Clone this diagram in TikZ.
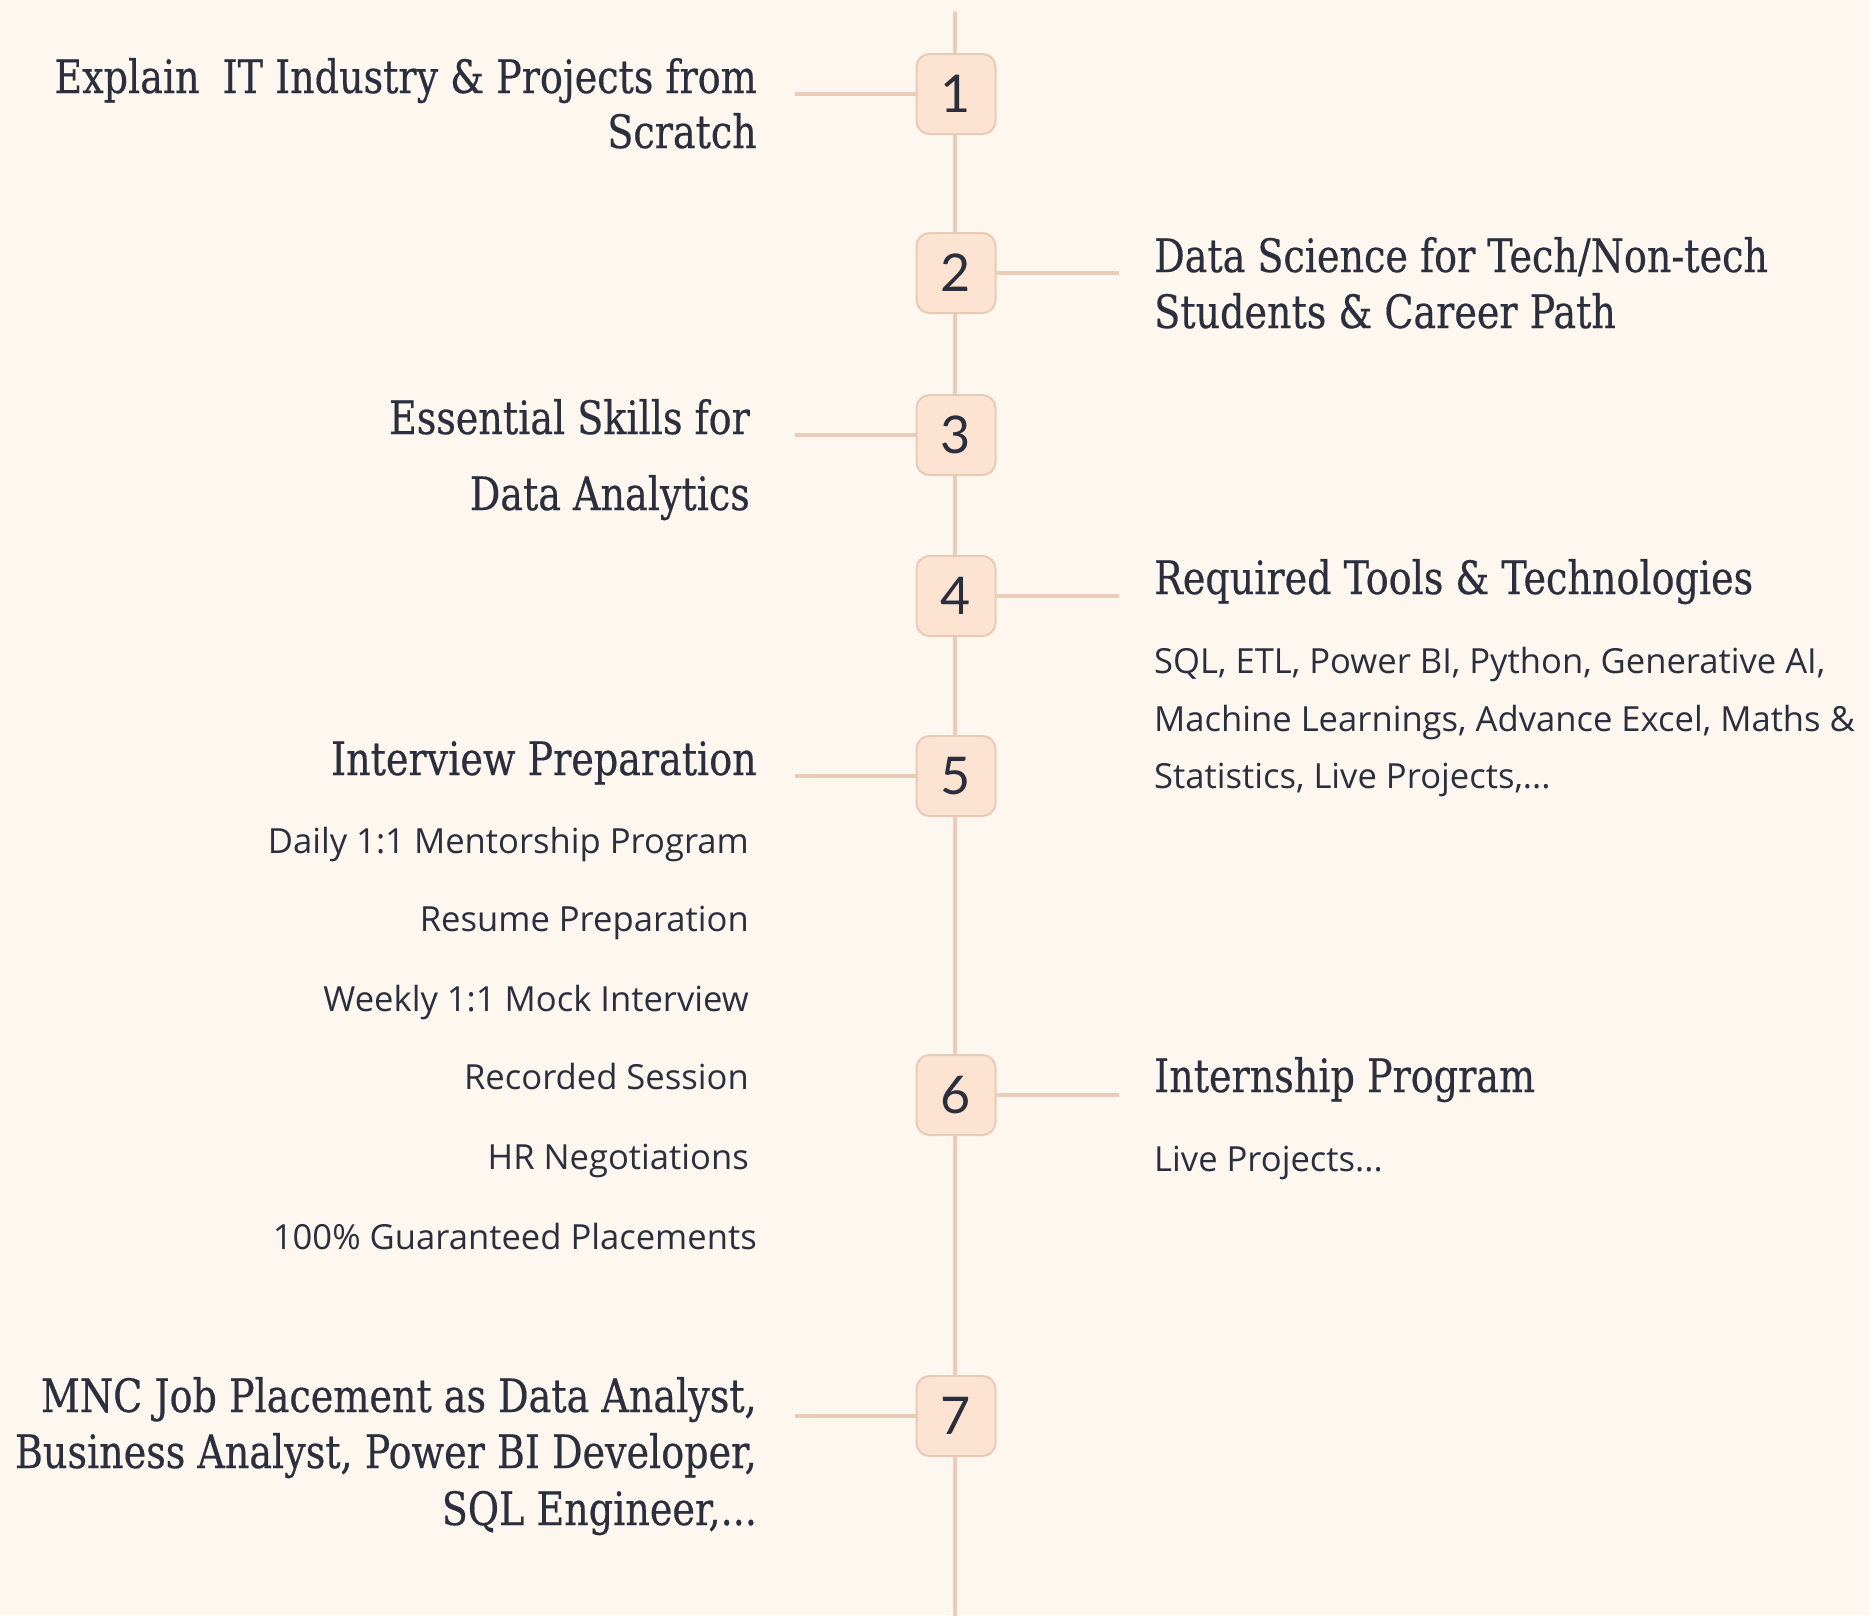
\documentclass[tikz,border=0pt]{standalone}
\usepackage{fontspec}
\newfontfamily\headfont[FakeStretch=0.92,FakeBold=0.4]{DejaVu Serif Condensed}
\newfontfamily\bodyfont{Open Sans}
\newfontfamily\numfont{Lato}
\definecolor{bgc}{HTML}{FEF7F0}
\definecolor{linec}{HTML}{E9CDB8}
\definecolor{boxfill}{HTML}{FDE4D2}
\definecolor{boxline}{HTML}{E8CBB4}
\definecolor{txt}{HTML}{2B2F3D}
\tikzset{
  numbox/.style={draw=boxline, line width=2pt, fill=boxfill, rounded corners=13pt,
    minimum width=79pt, minimum height=80pt, inner sep=0pt, text=txt,
    font=\numfont\fontsize{52}{52}\selectfont},
  spine/.style={draw=linec, line width=3.5pt, line cap=round},
  conn/.style={draw=linec, line width=3.5pt},
  head/.style={inner sep=0pt, text=txt, font=\headfont\fontsize{46}{52}\selectfont},
  body/.style={inner sep=0pt, text=txt, font=\bodyfont\fontsize{34.6}{40}\selectfont},
}
\begin{document}
\begin{tikzpicture}[x=1pt,y=-1pt]
\fill[bgc] (0,0) rectangle (1870,1615);
\useasboundingbox (0,0) rectangle (1870,1615);
% spine
\coordinate (top) at (955,13);
\coordinate (bot) at (955,1620);
\draw[spine] (top) -- (bot);
% connector ends
\coordinate (c1) at (795,94);
\coordinate (c2) at (1119,273);
\coordinate (c3) at (795,435);
\coordinate (c4) at (1119,596);
\coordinate (c5) at (795,776);
\coordinate (c6) at (1119,1095);
\coordinate (c7) at (795,1416);
% boxes
\node[numbox] (n1) at (956,94) {1};
\node[numbox] (n2) at (956,273) {2};
\node[numbox] (n3) at (956,435) {3};
\node[numbox] (n4) at (956,596) {4};
\node[numbox] (n5) at (956,776) {5};
\node[numbox] (n6) at (956,1095) {6};
\node[numbox] (n7) at (956,1416) {7};
\draw[conn] (c1) -- (n1.west);
\draw[conn] (n2.east) -- (c2);
\draw[conn] (c3) -- (n3.west);
\draw[conn] (n4.east) -- (c4);
\draw[conn] (c5) -- (n5.west);
\draw[conn] (n6.east) -- (c6);
\draw[conn] (c7) -- (n7.west);
% item 1
\node[head, anchor=base east] (t1a) at (757,93) {Explain\hspace{0.5em}IT Industry \& Projects from};
\node[head, anchor=base east] (t1b) at (757,148) {Scratch};
% item 2
\node[head, anchor=base west] (t2a) at (1154,272) {Data Science for Tech/Non-tech};
\node[head, anchor=base west] (t2b) at (1154,328) {Students \& Career Path};
% item 3
\node[head, anchor=base east] (t3a) at (750,434) {Essential Skills for};
\node[head, anchor=base east] (t3b) at (750,510) {Data Analytics};
% item 4
\node[head, anchor=base west] (t4) at (1154,594) {Required Tools \& Technologies};
\node[body, anchor=base west] (t4a) at (1154,673) {SQL, ETL, Power BI, Python, Generative AI,};
\node[body, anchor=base west] (t4b) at (1154,731) {Machine Learnings, Advance Excel, Maths \&};
\node[body, anchor=base west] (t4c) at (1154,788) {Statistics, Live Projects,...};
% item 5
\node[head, anchor=base east] (t5) at (757,775) {Interview Preparation};
\node[body, anchor=base east] (t5a) at (749,853) {Daily 1:1 Mentorship Program};
\node[body, anchor=base east] (t5b) at (749,931) {Resume Preparation};
\node[body, anchor=base east] (t5c) at (749,1011) {Weekly 1:1 Mock Interview};
\node[body, anchor=base east] (t5d) at (749,1089) {Recorded Session};
\node[body, anchor=base east] (t5e) at (749,1169) {HR Negotiations};
\node[body, anchor=base east] (t5f) at (757,1249) {100\% Guaranteed Placements};
% item 6
\node[head, anchor=base west] (t6) at (1154,1092) {Internship Program};
\node[body, anchor=base west] (t6a) at (1154,1171) {Live Projects...};
% item 7
\node[head, anchor=base east] (t7a) at (757,1412) {MNC Job Placement as Data Analyst,};
\node[head, anchor=base east] (t7b) at (757,1468) {Business Analyst, Power BI Developer,};
\node[head, anchor=base east] (t7c) at (757,1525) {SQL Engineer,...};
\end{tikzpicture}
\end{document}
